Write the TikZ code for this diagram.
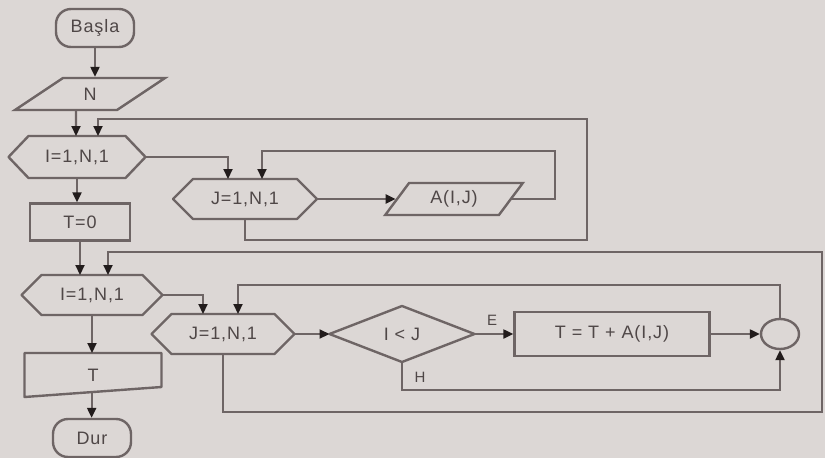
\documentclass[tikz,border=0pt]{standalone}
\usepackage{fontspec}
\setmainfont{Liberation Sans}[LetterSpace=5]
\usetikzlibrary{arrows.meta,shapes.geometric,calc}
\definecolor{bg}{HTML}{DCD7D5}
\definecolor{ln}{HTML}{6E6565}
\definecolor{tx}{HTML}{4F4747}
\definecolor{ah}{HTML}{221C1C}
\begin{document}
\begin{tikzpicture}[x=1pt,y=-1pt,
  line/.style={draw=ln,line width=2.4pt,line join=round},
  conn/.style={draw=ln,line width=2.2pt},
  arr/.style={conn,-{Triangle[length=10pt,width=9pt,color=ah]}},
  lbl/.style={text=tx,font=\fontsize{18}{21}\selectfont},
  small/.style={text=tx,font=\fontsize{15}{17}\selectfont,inner sep=0pt},
  box/.style={lbl,draw=ln,line width=2.4pt,rectangle,inner sep=0pt},
  term/.style={box,rounded corners=15pt},
  ghost/.style={lbl,inner sep=0pt,outer sep=0pt,rectangle},
  io/.style={lbl,trapezium,trapezium stretches=true,draw=ln,line width=2.4pt,inner sep=0pt},
]
\useasboundingbox (0,0) rectangle (825,458);
\fill[bg] (0,0) rectangle (825,458);

% nodes
\node[term,minimum width=78pt,minimum height=38pt] (start) at (95,28) {Başla};
\node[io,trapezium left angle=47,trapezium right angle=133,minimum width=150pt,minimum height=32pt] (n) at (90,94) {N};
\node[ghost,minimum width=137pt,minimum height=42pt] (i1) at (77,157) {I=1,N,1};
\node[ghost,minimum width=144pt,minimum height=40pt] (j1) at (245,199) {J=1,N,1};
\node[io,trapezium left angle=53,trapezium right angle=127,minimum width=138pt,minimum height=32pt] (a) at (454,199) {A(I,J)};
\node[box,minimum width=100pt,minimum height=37pt] (t0) at (80,222) {T=0};
\node[ghost,minimum width=141pt,minimum height=40pt] (i2) at (92,295) {I=1,N,1};
\node[ghost,minimum width=143pt,minimum height=40pt] (j2) at (223,334) {J=1,N,1};
\node[ghost,minimum width=145pt,minimum height=56pt] (d) at (402,334) {I < J};
\node[box,minimum width=195pt,minimum height=44pt] (s) at (612,334) {T = T + A(I,J)};
\node[ellipse,draw=ln,line width=2.4pt,minimum width=38pt,minimum height=30pt,inner sep=0pt] (c) at (780,334) {};
\node[ghost,minimum width=137pt,minimum height=44pt] (tout) at (93,375) {T};
\node[term,minimum width=78pt,minimum height=38pt] (dur) at (92,438) {Dur};

% custom outlines
\foreach \h in {i1,j1,i2,j2}{
  \draw[line] ([xshift=20pt]\h.north west) -- ([xshift=-20pt]\h.north east) -- (\h.east)
    -- ([xshift=-20pt]\h.south east) -- ([xshift=20pt]\h.south west) -- (\h.west) -- cycle;
}
\draw[line] (d.west) -- (d.north) -- (d.east) -- (d.south) -- cycle;
\draw[line] (tout.north west) -- (tout.north east) -- ([yshift=10pt]tout.south east) -- (tout.south west) -- cycle;
\coordinate (toutb) at ($(tout.south west)!0.49!([yshift=10pt]tout.south east)$);

% loop corner points
\coordinate (r1) at (555,151);
\coordinate (r2) at (587,240);
\coordinate (r3) at (587,119);
\coordinate (r5) at (822,412);
\coordinate (r6) at (822,252);

% main flow
\draw[arr] (start.south) -- (start.south |- n.north);
\draw[arr] ([xshift=-14pt]n.south) -- ([xshift=-1pt]i1.north);
\draw[arr] (i1.south) -- (i1.south |- t0.north);
\draw[arr] (t0.south) -- (t0.south |- i2.north);
\draw[arr] (i2.south) -- (i2.south |- tout.north);
\draw[arr] (toutb) -- (toutb |- dur.north);

% first nested loop
\draw[arr] (i1.east) -| ([xshift=-17pt]j1.north);
\draw[arr] (j1.east) -- (j1.east -| a.west);
\draw[arr] (a.east) -| (r1) -| ([xshift=17pt]j1.north);
\draw[arr] (j1.south) |- (r2) -- (r3) -| ([xshift=21pt]i1.north);

% second nested loop
\draw[arr] (i2.east) -| ([xshift=-20pt]j2.north);
\draw[arr] (j2.east) -- (d.west);
\draw[arr] (d.east) -- (s.west);
\draw[arr] (s.east) -- (c.west);
\draw[arr] (d.south) -- ++(0,28) -| (c.south);
\draw[arr] (c.north) -- ++(0,-33) -| ([xshift=15pt]j2.north);
\draw[arr] (j2.south) |- (r5) -- (r6) -| ([xshift=16pt]i2.north);

% branch labels
\node[small] (lE) at (492,320) {E};
\node[small] (lH) at (420,377) {H};
\end{tikzpicture}
\end{document}
